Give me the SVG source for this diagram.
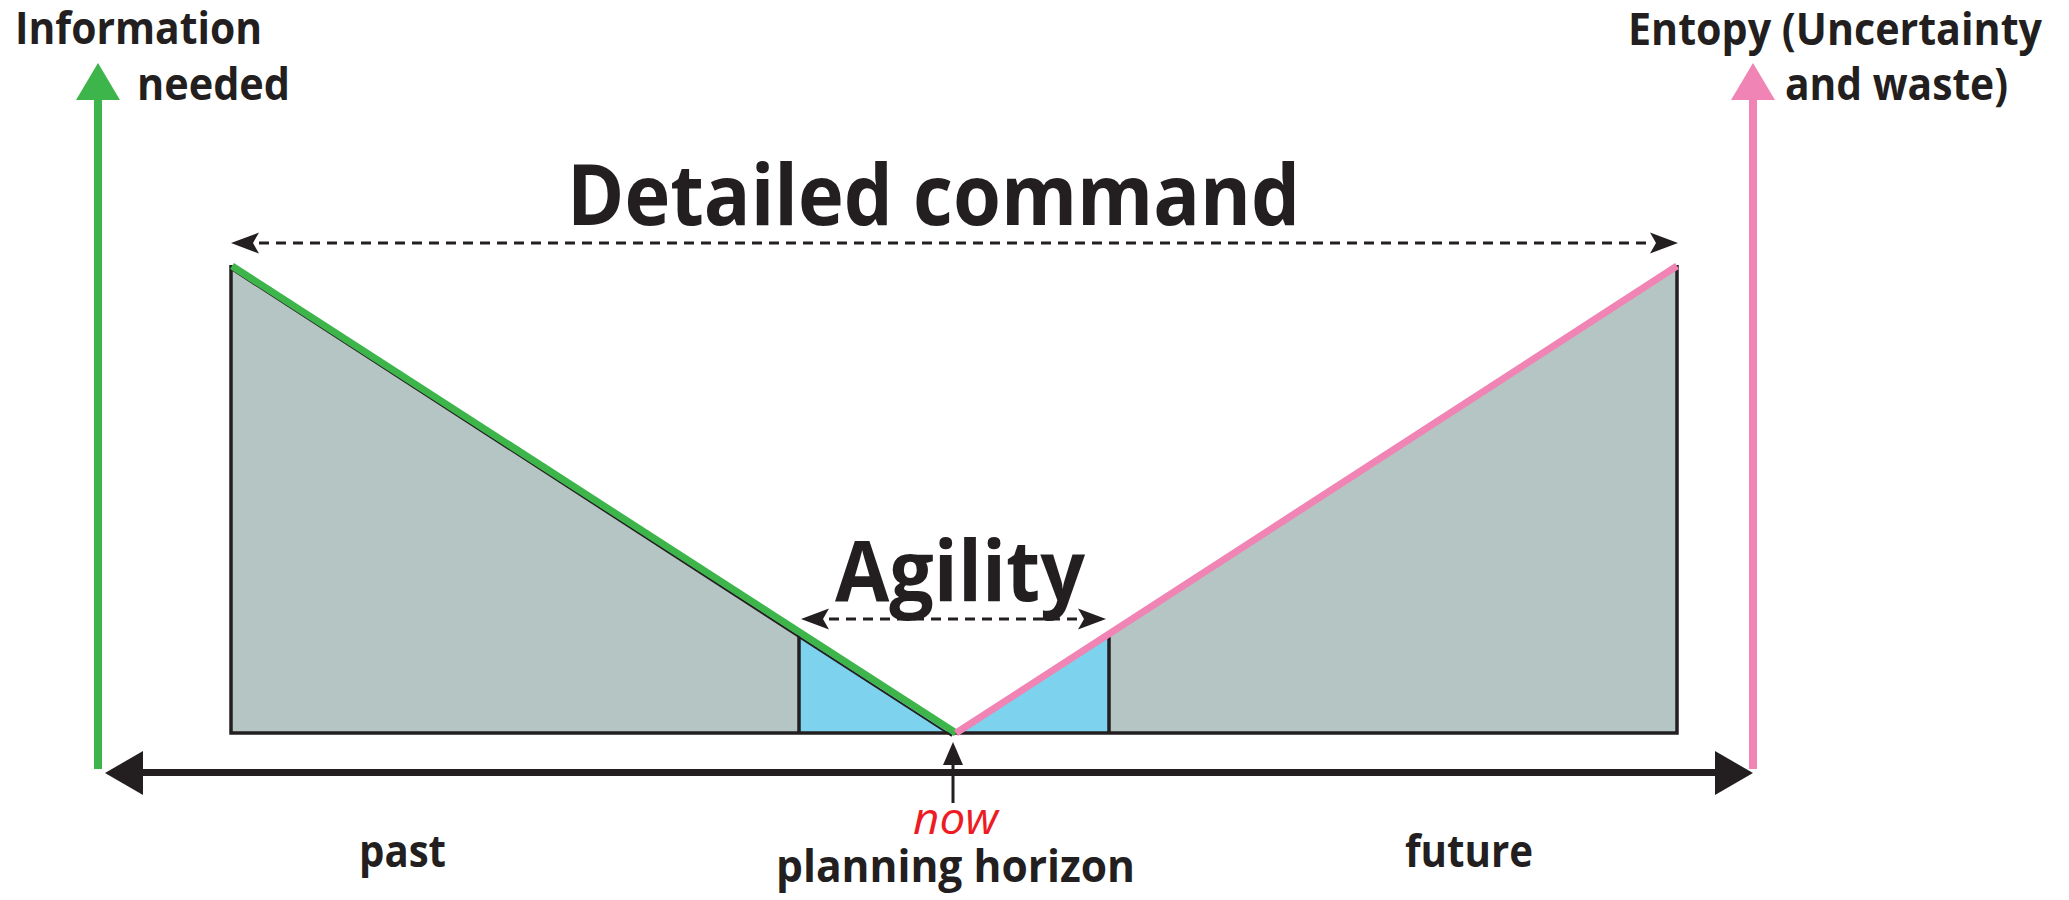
<svg xmlns="http://www.w3.org/2000/svg" width="2069" height="900" viewBox="0 0 2069 900">
<style>
.t{font-family:"Open Sans","Noto Sans","Liberation Sans",sans-serif;font-weight:bold;fill:#231f20}
.s{font-size:44px}
.b{font-size:85px}
.now{font-family:"Open Sans","Noto Sans","Liberation Sans",sans-serif;font-style:italic;font-size:43px;fill:#ed1c24}
.gray{fill:#b5c5c3}
.blue{fill:#7dd3ee}
.edge{fill:none;stroke:#231f20;stroke-width:3.5}
.dash{fill:none;stroke:#231f20;stroke-width:3;stroke-dasharray:10 7}
</style>
<defs>
<marker id="barb" viewBox="0 0 28 22" refX="0" refY="11" markerWidth="28" markerHeight="22" markerUnits="userSpaceOnUse" orient="auto-start-reverse">
<path d="M28,11 L0,0.5 L6,11 L0,21.5 Z" fill="#231f20"/>
</marker>
</defs>
<rect width="2069" height="900" fill="#ffffff"/>

<g id="regions">
<polygon class="gray" points="231,267 799,634 799,733 231,733"/>
<polygon class="blue" points="799,634 955,733 799,733"/>
<polygon class="blue" points="955,733 1109,634 1109,733"/>
<polygon class="gray" points="1109,634 1677,267 1677,733 1109,733"/>
<path class="edge" d="M231,265 L231,733 L1677,733 L1677,265"/>
<path class="edge" d="M799,634 L799,733 M1109,634 L1109,733"/>
<path d="M231,269 L952,736" stroke="#231f20" stroke-width="2" fill="none"/>
<path d="M232,266 L956,733" stroke="#3db54a" stroke-width="7" fill="none"/>
<path d="M956,733 L1677,266" stroke="#f084b4" stroke-width="7" fill="none"/>
</g>

<g id="connectors">
<g id="info-axis">
<line x1="98" y1="98" x2="98" y2="769" stroke="#3db54a" stroke-width="8"/>
<polygon points="98,63 120,100 76,100" fill="#3db54a"/>
</g>
<g id="entropy-axis">
<line x1="1753" y1="98" x2="1753" y2="769" stroke="#f084b4" stroke-width="8"/>
<polygon points="1753,63 1775,100 1731,100" fill="#f084b4"/>
</g>
<g id="time-axis">
<line x1="140" y1="772.5" x2="1718" y2="772.5" stroke="#231f20" stroke-width="7"/>
<polygon points="105,773 143,751 143,795" fill="#231f20"/>
<polygon points="1753,773 1715,751 1715,795" fill="#231f20"/>
</g>
<g id="now-arrow">
<line x1="953" y1="760" x2="953" y2="803" stroke="#231f20" stroke-width="3"/>
<polygon points="953,742 963,765 943,765" fill="#231f20"/>
</g>
<line id="detailed-span" class="dash" x1="259" y1="243" x2="1650" y2="243" marker-start="url(#barb)" marker-end="url(#barb)"/>
<line id="agility-span" class="dash" x1="829" y1="619" x2="1078" y2="619" marker-start="url(#barb)" marker-end="url(#barb)"/>
</g>

<g id="label-information">
<text class="t s" x="15" y="44" textLength="247" lengthAdjust="spacingAndGlyphs">Information</text>
<text class="t s" x="137" y="100" textLength="153" lengthAdjust="spacingAndGlyphs">needed</text>
</g>
<g id="label-entropy">
<text class="t s" x="1628" y="45" textLength="414" lengthAdjust="spacingAndGlyphs">Entopy (Uncertainty</text>
<text class="t s" x="1785" y="100" textLength="223" lengthAdjust="spacingAndGlyphs">and waste)</text>
</g>
<g id="label-detailed">
<text class="t b" x="567" y="225" textLength="733" lengthAdjust="spacingAndGlyphs">Detailed command</text>
</g>
<g id="label-agility">
<text class="t b" x="835" y="601" textLength="250" lengthAdjust="spacingAndGlyphs">Agility</text>
</g>
<g id="label-past">
<text class="t s" x="359" y="867" textLength="87" lengthAdjust="spacingAndGlyphs">past</text>
</g>
<g id="label-now">
<text class="now" x="913" y="834" textLength="85" lengthAdjust="spacingAndGlyphs">now</text>
<text class="t s" x="776" y="882" textLength="359" lengthAdjust="spacingAndGlyphs">planning horizon</text>
</g>
<g id="label-future">
<text class="t s" x="1405" y="867" textLength="128" lengthAdjust="spacingAndGlyphs">future</text>
</g>
</svg>
